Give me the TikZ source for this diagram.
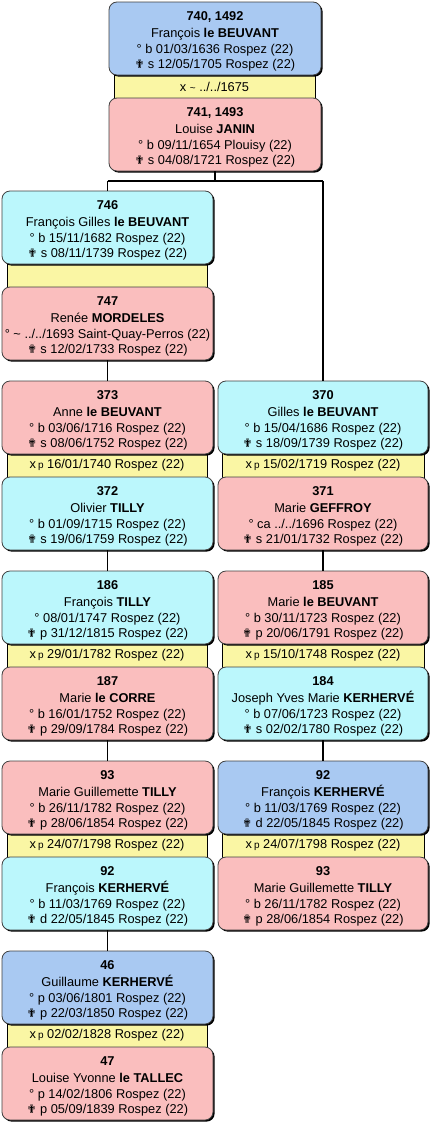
\documentclass[tikz,border=0pt]{standalone}
\usepackage{fontspec}
\setmainfont{Liberation Sans}
\newfontfamily\symfont{DejaVu Sans}
\usetikzlibrary{shadows}
\definecolor{mblue}{RGB}{169,201,242}
\definecolor{mcyan}{RGB}{187,247,252}
\definecolor{fpink}{RGB}{250,190,190}
\definecolor{myellow}{RGB}{250,246,164}
\newcommand\pers[5]{\rule{0pt}{15pt}\textbf{#1}\\[1.5pt]#2 \textbf{#3}\\#4\\{\symfont\fontsize{11.5}{10}\selectfont ✟} #5}
\newcommand\xp{x\,{\fontsize{10}{10}\selectfont p}}
\tikzset{
  box/.style={rectangle, rounded corners=8pt, draw=black!75, line width=0.8pt,
    minimum height=73pt, inner sep=0pt, align=center,
    font=\fontsize{12.8}{15.5}\selectfont,
    general shadow={shadow xshift=1.6pt, shadow yshift=-1.6pt, fill=black}},
  top/.style={box, minimum width=212pt},
  lcol/.style={box, minimum width=211pt},
  rcol/.style={box, minimum width=210pt},
  band/.style={rectangle, fill=myellow, draw=black, line width=1pt, minimum height=28pt,
    inner sep=0pt, font=\fontsize{12.8}{13}\selectfont},
  tband/.style={band, minimum width=201pt},
  lband/.style={band, minimum width=200pt},
  rband/.style={band, minimum width=202pt},
  link/.style={draw=black, line width=1.6pt}
}
\begin{document}
\begin{tikzpicture}[x=1pt,y=-1pt]
\useasboundingbox (0,0) rectangle (436,1127);
% bands
\node[tband] (m740) at (214.5,86.5) {x {\fontsize{10}{10}\selectfont\char`~} ../../1675};
\node[lband] (m746) at (107,275.5) {};
\node[lband] (m373) at (107,465.5) {\xp\ 16/01/1740 Rospez (22)};
\node[lband] (m186) at (107,655.5) {\xp\ 29/01/1782 Rospez (22)};
\node[lband] (m93) at (107,845.5) {\xp\ 24/07/1798 Rospez (22)};
\node[lband] (m46) at (107,1035.5) {\xp\ 02/02/1828 Rospez (22)};
\node[rband] (m370) at (323,465.5) {\xp\ 15/02/1719 Rospez (22)};
\node[rband] (m185) at (323,655.5) {\xp\ 15/10/1748 Rospez (22)};
\node[rband] (m92r) at (323,845.5) {\xp\ 24/07/1798 Rospez (22)};
% top couple
\node[top, fill=mblue] (p740) at (215,38.5) {\pers{740, 1492}{François}{le BEUVANT}{° b 01/03/1636 Rospez (22)}{s 12/05/1705 Rospez (22)}};
\node[top, fill=fpink] (p741) at (215,134.5) {\pers{741, 1493}{Louise}{JANIN}{° b 09/11/1654 Plouisy (22)}{s 04/08/1721 Rospez (22)}};
% left column
\node[lcol, fill=mcyan] (p746) at (107.5,227.5) {\pers{746}{François Gilles}{le BEUVANT}{° b 15/11/1682 Rospez (22)}{s 08/11/1739 Rospez (22)}};
\node[lcol, fill=fpink] (p747) at (107.5,323.5) {\pers{747}{Renée}{MORDELES}{° \char`~\ ../../1693 Saint-Quay-Perros (22)}{s 12/02/1733 Rospez (22)}};
\node[lcol, fill=fpink] (p373) at (107.5,417.5) {\pers{373}{Anne}{le BEUVANT}{° b 03/06/1716 Rospez (22)}{s 08/06/1752 Rospez (22)}};
\node[lcol, fill=mcyan] (p372) at (107.5,513.5) {\pers{372}{Olivier}{TILLY}{° b 01/09/1715 Rospez (22)}{s 19/06/1759 Rospez (22)}};
\node[lcol, fill=mcyan] (p186) at (107.5,607.5) {\pers{186}{François}{TILLY}{° 08/01/1747 Rospez (22)}{p 31/12/1815 Rospez (22)}};
\node[lcol, fill=fpink] (p187) at (107.5,703.5) {\pers{187}{Marie}{le CORRE}{° b 16/01/1752 Rospez (22)}{p 29/09/1784 Rospez (22)}};
\node[lcol, fill=fpink] (p93) at (107.5,797.5) {\pers{93}{Marie Guillemette}{TILLY}{° b 26/11/1782 Rospez (22)}{p 28/06/1854 Rospez (22)}};
\node[lcol, fill=mcyan] (p92) at (107.5,893.5) {\pers{92}{François}{KERHERVÉ}{° b 11/03/1769 Rospez (22)}{d 22/05/1845 Rospez (22)}};
\node[lcol, fill=mblue] (p46) at (107.5,987.5) {\pers{46}{Guillaume}{KERHERVÉ}{° p 03/06/1801 Rospez (22)}{p 22/03/1850 Rospez (22)}};
\node[lcol, fill=fpink] (p47) at (107.5,1083.5) {\pers{47}{Louise Yvonne}{le TALLEC}{° p 14/02/1806 Rospez (22)}{p 05/09/1839 Rospez (22)}};
% right column
\node[rcol, fill=mcyan] (p370) at (323,417.5) {\pers{370}{Gilles}{le BEUVANT}{° b 15/04/1686 Rospez (22)}{s 18/09/1739 Rospez (22)}};
\node[rcol, fill=fpink] (p371) at (323,513.5) {\pers{371}{Marie}{GEFFROY}{° ca ../../1696 Rospez (22)}{s 21/01/1732 Rospez (22)}};
\node[rcol, fill=fpink] (p185) at (323,607.5) {\pers{185}{Marie}{le BEUVANT}{° b 30/11/1723 Rospez (22)}{p 20/06/1791 Rospez (22)}};
\node[rcol, fill=mcyan] (p184) at (323,703.5) {\pers{184}{Joseph Yves Marie}{KERHERVÉ}{° b 07/06/1723 Rospez (22)}{s 02/02/1780 Rospez (22)}};
\node[rcol, fill=mblue] (p92r) at (323,797.5) {\pers{92}{François}{KERHERVÉ}{° b 11/03/1769 Rospez (22)}{d 22/05/1845 Rospez (22)}};
\node[rcol, fill=fpink] (p93r) at (323,893.5) {\pers{93}{Marie Guillemette}{TILLY}{° b 26/11/1782 Rospez (22)}{p 28/06/1854 Rospez (22)}};
% connectors
\coordinate (jL) at (107.5,181);
\coordinate (jR) at (323,181);
\draw[link] (p741.south) -- (p741.south |- jL);
\draw[link] (jL) -- (jR);
\draw[link] (jL) -- (p746.north);
\draw[link] (jR) -- (p370.north);
\draw[link] (p747.south) -- (p373.north);
\draw[link] (p372.south) -- (p186.north);
\draw[link] (p187.south) -- (p93.north);
\draw[link] (p92.south) -- (p46.north);
\draw[link] (p371.south) -- (p185.north);
\draw[link] (p184.south) -- (p92r.north);
\end{tikzpicture}
\end{document}
